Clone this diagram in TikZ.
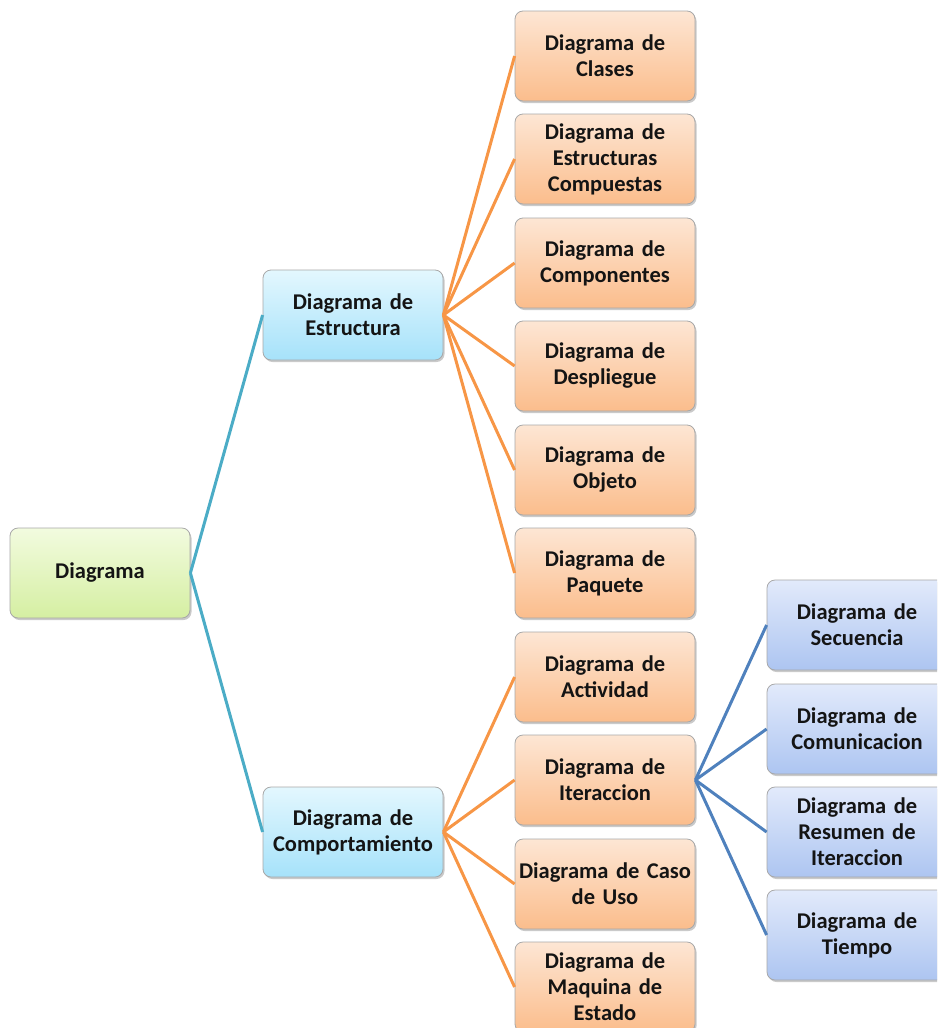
\documentclass[tikz,border=0pt]{standalone}
\usepackage{fontspec}
\setmainfont{Carlito}
\usetikzlibrary{shadows}
\definecolor{lnTeal}{HTML}{4BACC6}
\definecolor{lnOrange}{HTML}{F79646}
\definecolor{lnBlue}{HTML}{4F81BD}
\definecolor{greenTop}{HTML}{F2FBDF}
\definecolor{greenBot}{HTML}{D5EFA2}
\definecolor{cyanTop}{HTML}{E3F7FE}
\definecolor{cyanBot}{HTML}{A6E2FA}
\definecolor{orangeTop}{HTML}{FDE6D4}
\definecolor{orangeBot}{HTML}{FBBD8C}
\definecolor{lavTop}{HTML}{E2EAFB}
\definecolor{lavBot}{HTML}{ADC5F1}
\definecolor{boxEdge}{HTML}{A8A8A8}
\definecolor{ink}{HTML}{141414}
\tikzset{
  card/.style={draw=boxEdge, line width=0.8pt, rounded corners=8pt,
    minimum width=180pt, minimum height=90pt, text width=178pt, align=center,
    inner sep=0pt, text=ink, font=\bfseries\fontsize{22.5}{26}\selectfont,
    drop shadow={shadow xshift=1.5pt, shadow yshift=-2pt, opacity=0.35, fill=black!60}},
  rootcard/.style={card, top color=greenTop, bottom color=greenBot},
  midcard/.style={card, top color=cyanTop, bottom color=cyanBot},
  leafcard/.style={card, top color=orangeTop, bottom color=orangeBot},
  subcard/.style={card, top color=lavTop, bottom color=lavBot},
  linkTeal/.style={lnTeal, line width=3pt},
  linkOrange/.style={lnOrange, line width=3pt},
  linkBlue/.style={lnBlue, line width=3pt},
}
\begin{document}
\begin{tikzpicture}[x=1pt, y=-1pt]
\useasboundingbox (0,0) rectangle (937,1028);
\clip (0,0) rectangle (937,1028);

% root and second level
\node[rootcard] (root) at (100,573) {Diagrama};
\node[midcard] (est) at (353,315) {Diagrama de\\Estructura};
\node[midcard] (comp) at (353,832) {Diagrama de\\Comportamiento};

% structure diagrams
\node[leafcard] (clases) at (605,56) {Diagrama de\\Clases};
\node[leafcard] (estcomp) at (605,159) {Diagrama de\\Estructuras\\Compuestas};
\node[leafcard] (compon) at (605,263) {Diagrama de\\Componentes};
\node[leafcard] (despl) at (605,366) {Diagrama de\\Despliegue};
\node[leafcard] (objeto) at (605,470) {Diagrama de\\Objeto};
\node[leafcard] (paquete) at (605,573) {Diagrama de\\Paquete};

% behaviour diagrams
\node[leafcard] (activ) at (605,677) {Diagrama de\\Actividad};
\node[leafcard] (iter) at (605,780) {Diagrama de\\Iteraccion};
\node[leafcard] (caso) at (605,884) {Diagrama de Caso\\de Uso};
\node[leafcard] (maq) at (605,987) {Diagrama de\\Maquina de\\Estado};

% interaction diagrams
\node[subcard] (secu) at (857,625) {Diagrama de\\Secuencia};
\node[subcard] (comu) at (857,729) {Diagrama de\\Comunicacion};
\node[subcard] (resu) at (857,832) {Diagrama de\\Resumen de\\Iteraccion};
\node[subcard] (tiem) at (857,935) {Diagrama de\\Tiempo};

% connectors from each parent's right side to its children
\draw[linkTeal] (root.east) -- (est.west);
\draw[linkTeal] (root.east) -- (comp.west);
\foreach \n in {clases,estcomp,compon,despl,objeto,paquete}
  \draw[linkOrange] (est.east) -- (\n.west);
\foreach \n in {activ,iter,caso,maq}
  \draw[linkOrange] (comp.east) -- (\n.west);
\foreach \n in {secu,comu,resu,tiem}
  \draw[linkBlue] (iter.east) -- (\n.west);
\end{tikzpicture}
\end{document}
